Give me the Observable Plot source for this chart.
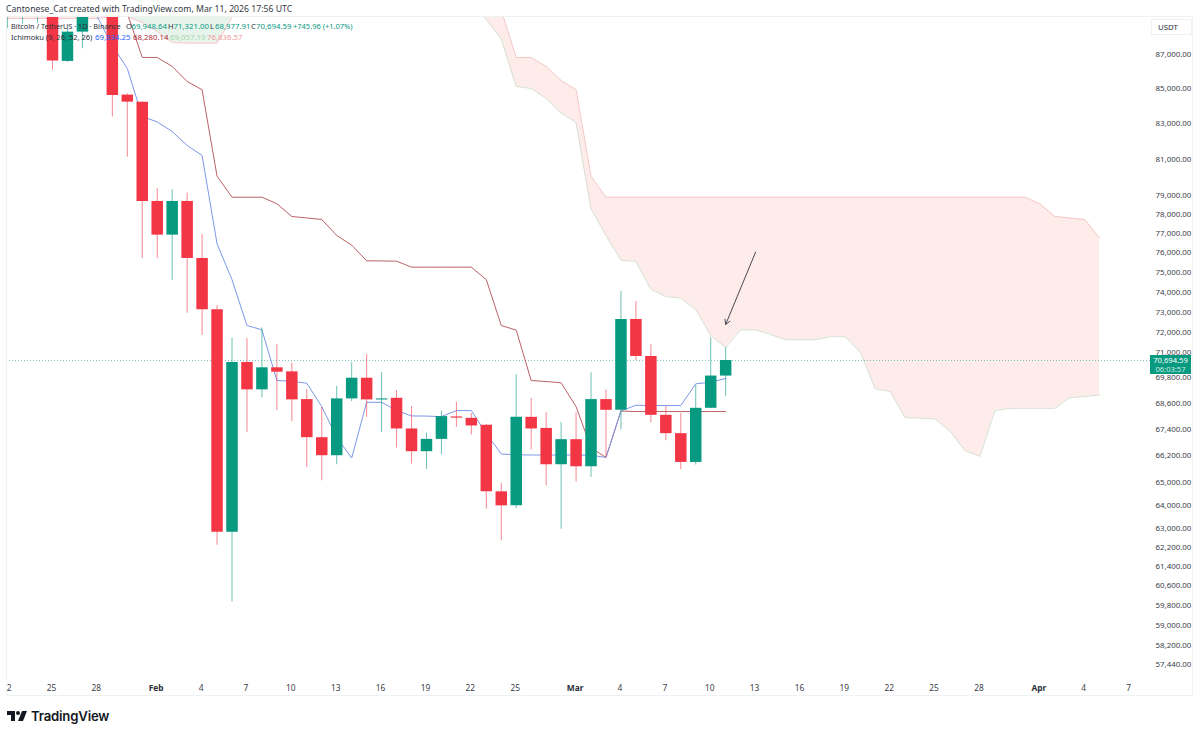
<!DOCTYPE html>
<html>
<head>
<meta charset="utf-8">
<script src="https://cdn.jsdelivr.net/npm/d3@7"></script>
<script src="https://cdn.jsdelivr.net/npm/@observablehq/plot@0.6"></script>
<style>
    body { margin: 0; background: #fff; width: 1200px; height: 734px; position: relative; overflow: hidden; font-family: "Noto Sans", sans-serif; color: #2a2e39; }
    #title { position: absolute; left: 6px; top: 3px; font-size: 8.7px; line-height: 12px; white-space: nowrap; color: #363a45; }
    #chart { position: absolute; left: 0; top: 16px; }
    #panel { position: absolute; left: 6px; top: 16px; width: 1187px; height: 680px; box-sizing: border-box; border: 1px solid #f0f1f3; pointer-events: none; }
    .lg { position: absolute; line-height: 11px; white-space: nowrap; }
    #unit { position: absolute; left: 1151px; top: 19px; width: 41px; height: 16px; box-sizing: border-box; border: 1px solid #eef0f2; font-size: 7.8px; line-height: 14px; padding-left: 6px; background: #fff; }
    #lastPrice { position: absolute; left: 1150px; top: 355px; width: 41px; height: 19px; background: #089981; color: #fff; font-size: 7.6px; line-height: 9px; text-align: center; padding-top: 1px; box-sizing: border-box; }
    #lastPrice .t { color: #c4ebe2; }
    #brand { position: absolute; left: 7px; top: 708px; display: flex; align-items: center; }
    #brand span { font-family: Inter, sans-serif; font-weight: 600; font-size: 13.2px; letter-spacing: -0.2px; margin-left: 4px; color: #131722; }
</style>
</head>
<body>
<div id="title">Cantonese_Cat created with TradingView.com, Mar 11, 2026 17:56 UTC</div>
<div id="chart"></div>
<div id="panel"></div>
<div id="legend"></div>
<div id="unit">USDT</div>
<div id="lastPrice">70,694.59<br><span class="t">06:03:57</span></div>
<div id="brand">
    <svg width="20" height="11" viewBox="0 0 20 11"><path d="M0 0h8v10H4V4H0z" fill="#131722"/><circle cx="11" cy="2" r="2" fill="#131722"/><path d="M15 0h5l-4 10h-5z" fill="#131722"/></svg>
    <span>TradingView</span>
</div>

<script>
// bougies journalieres
const candleDates = d3.utcDays(new Date("2026-01-22"), new Date("2026-03-12"));
const opens = [
    89900, 89800, 89850, 89600, 86644, 88389, 90300, 89700, 84680, 84278,
    78772, 76987, 78772, 75775, 73176, 62898, 70599, 69295, 70343, 70150,
    68838, 67077, 66259, 68871, 69846, 68820, 68899, 67476, 66440, 67000,
    68030, 67965, 67645, 64651, 64037, 68012, 67500, 65853,
    66986, 65763, 68838, 68338, 72695, 70888, 68105, 67261, 65957, 68431, 69948.64
];
const closes = [
    90500, 90400, 90300, 86670, 88389, 89900, 89700, 84663, 84278, 78772,
    76987, 78772, 75775, 73176, 62898, 70599, 69295, 70343, 70132, 68824,
    67077, 66259, 68871, 69846, 68824, 68871, 67476, 66440, 67000, 68045,
    67975, 67614, 64651, 64037, 68012, 67476, 65853, 66986,
    65763, 68838, 68338, 72695, 70888, 68105, 67261, 65957, 68431, 69948.64, 70694.59
];
const highs = [
    91000, 90800, 90700, 89800, 88600, 90100, 90500, 89900, 84760, 84300,
    79455, 79400, 79218, 77008, 73390, 71775, 71746, 72285, 71469, 70565,
    69309, 68478, 69466, 70584, 70984, 70118, 69262, 68510, 67293, 68291,
    68711, 68185, 67676, 65036, 70008, 68885, 68231, 67781,
    68217, 70103, 69295, 74092, 73590, 71455, 68524, 68198, 69499, 71795, 71321
];
const lows = [
    88600, 88855, 88900, 86133, 86585, 87397, 89400, 83422, 81182, 75760,
    75760, 74649, 73007, 71907, 62343, 59977, 67320, 68918, 68324, 67813,
    65732, 65138, 65853, 68744, 68012, 67320, 66608, 65885, 65642, 66290,
    67550, 67200, 63892, 62526, 63919, 66517, 64917, 63027,
    65080, 65285, 66182, 67430, 70695, 67753, 66940, 65629, 65840, 68417, 68977.91
];

// Ichimoku
const tenkanDates = d3.utcDays(new Date("2026-01-28"), new Date("2026-03-12"));
const tenkan = [
    89300, 87595, 86232, 83462,
    83150, 82614, 81831, 81277, 76537, 74685, 72398, 72186, 69736, 69703,
    69608, 68510, 67091, 66155, 68711, 68711, 68324, 68078, 68070, 68045,
    68324, 68324, 67261, 66336, 66304, 66290, 66290, 66290,
    66290, 66280, 66182, 68310, 68573, 68558, 68558, 68558, 69580, 69655, 69834.25
];
const kijunDates = d3.utcDays(new Date("2026-01-29"), new Date("2026-03-12"));
const kijun = [
    91000, 89521, 86880,
    86880, 86350, 85473, 84991, 80137, 79000, 79000, 79000, 78650, 77970,
    77890, 77812, 76970, 76465, 75657, 75647, 75636, 75327, 75327, 75327,
    75327, 75327, 74685, 72398, 72167, 69736, 69690, 69627,
    68510, 66621, 66182, 68300, 68280.14, 68280.14, 68280.14, 68280.14, 68280.14, 68280.14, 68280.14
];

// nuage decale vers la droite
const cloudDates = d3.utcDays(new Date("2026-02-22"), new Date("2026-04-06"));
const cloudUpper = [
    92000, 91000, 89703, 86880, 86880, 86350, 85531,
    84991, 80137, 79000, 79000, 79000, 79000, 79000, 79000, 79000, 79000,
    79000, 79000, 79000, 79000, 79000, 79000, 79000, 79000, 79000, 79000,
    79000, 79000, 79000, 79000, 79000, 79000, 79000, 79000, 79000, 79000, 79000,
    78650, 77970, 77890, 77812, 76836.57
];
const cloudLower = [
    90316, 89155, 87980, 85183, 85067, 84490, 83650,
    83122, 78382, 76970, 75688, 75620, 74194, 73840, 73755, 73190, 71907,
    71323, 72177, 72187, 71955, 71700, 71700, 71700, 71845, 71845, 71095,
    69343, 69215, 67998, 67975, 67938, 67366, 66485, 66228, 68324, 68431, 68431,
    68431, 68431, 68933, 68980, 69057.19
];
// morceaux de nuage tout en haut, a gauche
const greenCloudDates = d3.utcDays(new Date("2026-01-30"), new Date("2026-02-07"));
const greenCloudUpper = [90500, 90500, 90500, 90500, 90500, 90500, 90500, 90500];
const greenCloudLower = [89330, 88970, 88430, 87770, 87730, 87730, 87730, 89280];
const pinkCloudDates = d3.utcDays(new Date("2026-01-22"), new Date("2026-01-30"));
const pinkCloudUpper = [90500, 90500, 90500, 90500, 90500, 90500, 90500, 90500];
const pinkCloudLower = [89215, 89215, 89215, 89215, 89215, 89215, 89215, 89330];

const lastPrice = 70694.59;
const arrowFrom = { date: "2026-03-13", price: 76101 };
const arrowTo = { date: "2026-03-11", price: 72448 };

// axes
const priceTicks = [87000, 85000, 83000, 81000, 79000, 78000, 77000, 76000, 75000, 74000, 73000, 72000, 71000, 69800, 68600, 67400, 66200, 65000, 64000, 63000, 62200, 61400, 60600, 59800, 59000, 58200, 57440];
const edgeTicks = ["2026-01-22"];
const edgeLabels = ["2"];
const dayTicks = ["2026-01-25", "2026-01-28", "2026-02-04", "2026-02-07", "2026-02-10", "2026-02-13", "2026-02-16", "2026-02-19", "2026-02-22", "2026-02-25", "2026-03-04", "2026-03-07", "2026-03-10", "2026-03-13", "2026-03-16", "2026-03-19", "2026-03-22", "2026-03-25", "2026-03-28", "2026-04-04", "2026-04-07"];
const dayLabels = ["25", "28", "4", "7", "10", "13", "16", "19", "22", "25", "4", "7", "10", "13", "16", "19", "22", "25", "28", "4", "7"];
const monthTicks = ["2026-02-01", "2026-03-01", "2026-04-01"];
const monthLabels = ["Feb", "Mar", "Apr"];

const legendItems = [
    [11, 21, "Bitcoin / TetherUS · 1D · Binance", "#2a2e39", 7.3],
    [126, 21, "O", "#2a2e39", 7.6], [131.5, 21, "69,948.64", "#089981", 7.8],
    [168, 21, "H", "#2a2e39", 7.6], [173.5, 21, "71,321.00", "#089981", 7.8],
    [210, 21, "L", "#2a2e39", 7.6], [215, 21, "68,977.91", "#089981", 7.8],
    [251, 21, "C", "#2a2e39", 7.6], [256, 21, "70,694.59", "#089981", 7.8],
    [293, 21, "+745.96 (+1.07%)", "#089981", 7.5],
    [11, 31.5, "Ichimoku (9, 26, 52, 26)", "#2a2e39", 7.5],
    [95, 31.5, "69,834.25", "#2962ff", 7.8],
    [133, 31.5, "68,280.14", "#b22833", 7.8],
    [170, 31.5, "69,057.19", "#a5d6a7", 7.8],
    [207, 31.5, "76,836.57", "#ef9a9a", 7.8]
];

const GREEN = "#089981";
const RED = "#f23645";

const candles = candleDates.map((date, i) => ({
    date, open: opens[i], close: closes[i], high: highs[i], low: lows[i],
    dir: closes[i] >= opens[i] ? "up" : "down"
}));
const zip = (dates, a, b) => dates.map((date, i) => ({ date, a: a[i], b: b ? b[i] : null }));
const day = s => new Date(s);

const plot = Plot.plot({
    width: 1200,
    height: 680,
    marginTop: 0,
    marginBottom: 20,
    marginLeft: 6,
    marginRight: 50,
    style: { background: "transparent", fontFamily: '"Noto Sans", sans-serif', overflow: "visible" },
    x: { type: "utc", domain: [new Date("2026-01-21T22:12Z"), new Date("2026-04-08T09:36Z")], axis: null },
    y: { type: "log", domain: [57018, 89334], axis: null },
    color: { domain: ["up", "down"], range: [GREEN, RED] },
    marks: [
        // nuage
        Plot.areaY(zip(pinkCloudDates, pinkCloudUpper, pinkCloudLower), { x: "date", y1: "a", y2: "b", fill: "#fdecea", clip: true }),
        Plot.lineY(zip(pinkCloudDates, pinkCloudLower), { x: "date", y: "a", stroke: "#f5c6c6", strokeWidth: 1, clip: true }),
        Plot.areaY(zip(greenCloudDates, greenCloudUpper, greenCloudLower), { x: "date", y1: "a", y2: "b", fill: "#e7f4ec", clip: true }),
        Plot.lineY(zip(greenCloudDates, greenCloudLower), { x: "date", y: "a", stroke: "#f5c6c6", strokeWidth: 1, clip: true }),
        Plot.areaY(zip(cloudDates, cloudUpper, cloudLower), { x: "date", y1: "a", y2: "b", fill: "#fdecea", clip: true }),
        Plot.lineY(zip(cloudDates, cloudUpper), { x: "date", y: "a", stroke: "#f5c6c6", strokeWidth: 1, clip: true }),
        Plot.lineY(zip(cloudDates, cloudLower), { x: "date", y: "a", stroke: "#d6e0d2", strokeWidth: 1, clip: true }),
        // prix courant
        Plot.ruleY([lastPrice], { stroke: GREEN, strokeOpacity: 0.55, strokeWidth: 1, strokeDasharray: "1,2" }),
        // kijun, tenkan
        Plot.lineY(zip(kijunDates, kijun), { x: "date", y: "a", stroke: "#bb6065", strokeWidth: 1, clip: true }),
        Plot.lineY(zip(tenkanDates, tenkan), { x: "date", y: "a", stroke: "#7c98ea", strokeWidth: 1, clip: true }),
        // bougies
        Plot.ruleX(candles, { x: "date", y1: "low", y2: "high", stroke: "dir", strokeWidth: 1, strokeOpacity: 0.6, clip: true }),
        Plot.ruleX(candles, { x: "date", y1: "open", y2: "close", stroke: "dir", strokeWidth: 11.5, clip: true }),
        // fleche
        Plot.arrow([{}], {
            x1: () => day(arrowFrom.date), y1: () => arrowFrom.price,
            x2: () => day(arrowTo.date), y2: () => arrowTo.price,
            bend: 0, headLength: 8, stroke: "#4a4a55", strokeWidth: 1
        }),
        // axes
        Plot.axisY({
            anchor: "right", ticks: priceTicks, tickSize: 0, tickPadding: 5, label: null, dy: -1.3,
            fontSize: 7.9, fill: "#3d4049",
            tickFormat: d => d3.format(",.2f")(d)
        }),
        Plot.axisX({
            ticks: dayTicks.map(day), tickSize: 0, tickPadding: 8.5, label: null, dx: -1,
            fontSize: 8.4, fill: "#3d4049",
            tickFormat: (d, i) => dayLabels[i]
        }),
        Plot.axisX({
            ticks: edgeTicks.map(day), tickSize: 0, tickPadding: 8.5, label: null, dx: 1.5,
            fontSize: 8.4, fill: "#3d4049",
            tickFormat: (d, i) => edgeLabels[i]
        }),
        Plot.axisX({
            ticks: monthTicks.map(day), tickSize: 0, tickPadding: 8.5, label: null, dx: -1,
            fontSize: 8.4, fill: "#2a2e39", fontWeight: 700,
            tickFormat: (d, i) => monthLabels[i]
        })
    ]
});
document.getElementById("chart").append(plot);

// legende par-dessus le graphique
const legend = document.getElementById("legend");
legendItems.forEach(([left, top, text, color, size]) => {
    const s = document.createElement("span");
    s.className = "lg";
    s.style.left = left + "px";
    s.style.top = top + "px";
    s.style.color = color;
    s.style.fontSize = size + "px";
    s.textContent = text;
    legend.append(s);
});
</script>
</body>
</html>
